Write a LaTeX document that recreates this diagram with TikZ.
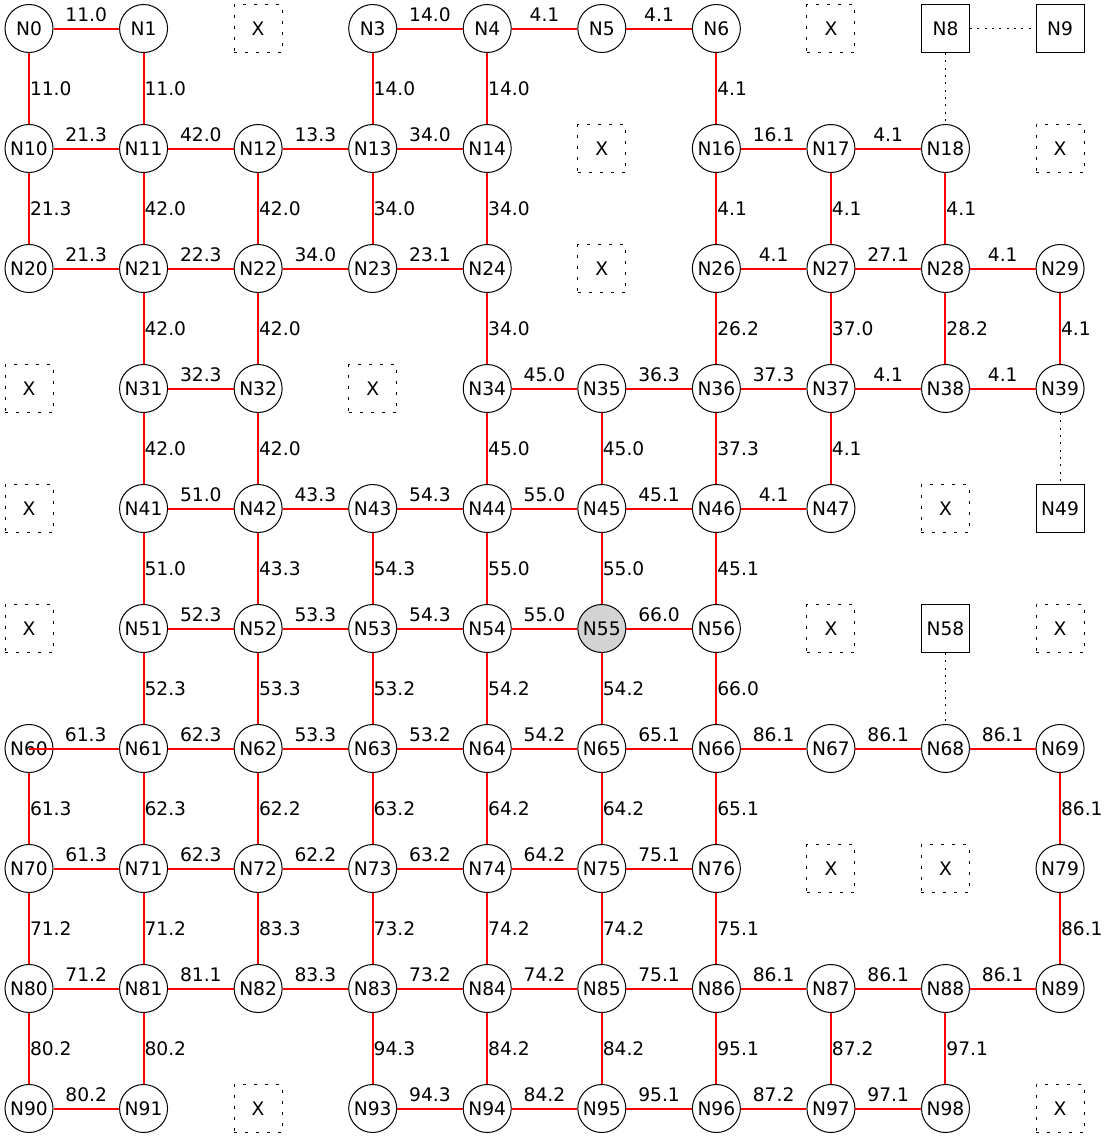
\documentclass[tikz,border=0pt]{standalone}
\usepackage{fontspec}
\setmainfont{DejaVu Sans}
\definecolor{seedgray}{HTML}{D3D3D3}

\begin{document}
\begin{tikzpicture}[
  x=0.75pt, y=-0.75pt,
  font=\fontsize{14}{17}\selectfont,
  site/.style={circle,draw,line width=0.75pt,minimum size=36pt,inner sep=0pt},
  term/.style={rectangle,draw,line width=0.75pt,minimum size=36pt,inner sep=0pt},
  blk/.style={rectangle,draw,line width=0.75pt,dash pattern=on 2.25pt off 6pt,minimum size=36pt,inner sep=0pt},
  link/.style={red,line width=1.5pt},
  dotlink/.style={black,line width=0.75pt,dash pattern=on 1.5pt off 4pt},
  hw/.style={text=black,anchor=south,inner sep=0pt,yshift=4.5pt},
  vw/.style={text=black,anchor=west,inner sep=0pt}
]
\useasboundingbox (0,0) rectangle (1109,1139);

% grid cells
\foreach \i [evaluate=\i as \cx using {29+114.56*mod(\i,10)},
             evaluate=\i as \cy using {28.5+120*int(\i/10)}] in
  {0,1,3,4,5,6,10,11,12,13,14,16,17,18,20,21,22,23,24,26,27,28,29,
   31,32,34,35,36,37,38,39,41,42,43,44,45,46,47,51,52,53,54,56,
   60,61,62,63,64,65,66,67,68,69,70,71,72,73,74,75,76,79,
   80,81,82,83,84,85,86,87,88,89,90,91,93,94,95,96,97,98}
  \node[site] (N\i) at (\cx,\cy) {N\i};
\node[site,fill=seedgray] (N55) at (29+114.56*5,28.5+120*5) {N55};
\foreach \i [evaluate=\i as \cx using {29+114.56*mod(\i,10)},
             evaluate=\i as \cy using {28.5+120*int(\i/10)}] in {8,9,49,58}
  \node[term] (N\i) at (\cx,\cy) {N\i};
\foreach \i [evaluate=\i as \cx using {29+114.56*mod(\i,10)},
             evaluate=\i as \cy using {28.5+120*int(\i/10)}] in
  {2,7,15,19,25,30,33,40,48,50,57,59,77,78,92,99}
  \node[blk] (X\i) at (\cx,\cy) {X};

% horizontal links
\foreach \a/\b/\w in {0/1/11.0, 3/4/14.0, 4/5/4.1, 5/6/4.1,
  10/11/21.3, 11/12/42.0, 12/13/13.3, 13/14/34.0, 16/17/16.1, 17/18/4.1,
  20/21/21.3, 21/22/22.3, 22/23/34.0, 23/24/23.1, 26/27/4.1, 27/28/27.1, 28/29/4.1,
  31/32/32.3, 34/35/45.0, 35/36/36.3, 36/37/37.3, 37/38/4.1, 38/39/4.1,
  41/42/51.0, 42/43/43.3, 43/44/54.3, 44/45/55.0, 45/46/45.1, 46/47/4.1,
  51/52/52.3, 52/53/53.3, 53/54/54.3, 54/55/55.0, 55/56/66.0,
  61/62/62.3, 62/63/53.3, 63/64/53.2, 64/65/54.2, 65/66/65.1, 66/67/86.1, 67/68/86.1, 68/69/86.1,
  70/71/61.3, 71/72/62.3, 72/73/62.2, 73/74/63.2, 74/75/64.2, 75/76/75.1,
  80/81/71.2, 81/82/81.1, 82/83/83.3, 83/84/73.2, 84/85/74.2, 85/86/75.1, 86/87/86.1, 87/88/86.1, 88/89/86.1,
  90/91/80.2, 93/94/94.3, 94/95/84.2, 95/96/95.1, 96/97/87.2, 97/98/97.1}
  \draw[link] (N\a) -- node[hw] {\w} (N\b);
\draw[link] (N60.center) -- node[hw,pos=0.63] {61.3} (N61);

% vertical links
\foreach \a/\b/\w in {0/10/11.0, 10/20/21.3, 60/70/61.3, 70/80/71.2, 80/90/80.2,
  1/11/11.0, 11/21/42.0, 21/31/42.0, 31/41/42.0, 41/51/51.0, 51/61/52.3, 61/71/62.3, 71/81/71.2, 81/91/80.2,
  12/22/42.0, 22/32/42.0, 32/42/42.0, 42/52/43.3, 52/62/53.3, 62/72/62.2, 72/82/83.3,
  3/13/14.0, 13/23/34.0, 43/53/54.3, 53/63/53.2, 63/73/63.2, 73/83/73.2, 83/93/94.3,
  4/14/14.0, 14/24/34.0, 24/34/34.0, 34/44/45.0, 44/54/55.0, 54/64/54.2, 64/74/64.2, 74/84/74.2, 84/94/84.2,
  35/45/45.0, 45/55/55.0, 55/65/54.2, 65/75/64.2, 75/85/74.2, 85/95/84.2,
  6/16/4.1, 16/26/4.1, 26/36/26.2, 36/46/37.3, 46/56/45.1, 56/66/66.0, 66/76/65.1, 76/86/75.1, 86/96/95.1,
  17/27/4.1, 27/37/37.0, 37/47/4.1, 87/97/87.2,
  18/28/4.1, 28/38/28.2, 88/98/97.1,
  29/39/4.1, 69/79/86.1, 79/89/86.1}
  \draw[link] (N\a) -- node[vw] {\w} (N\b);

% dotted links
\foreach \a/\b in {8/9, 8/18, 39/49, 58/68}
  \draw[dotlink] (N\a) -- (N\b);
\end{tikzpicture}
\end{document}
